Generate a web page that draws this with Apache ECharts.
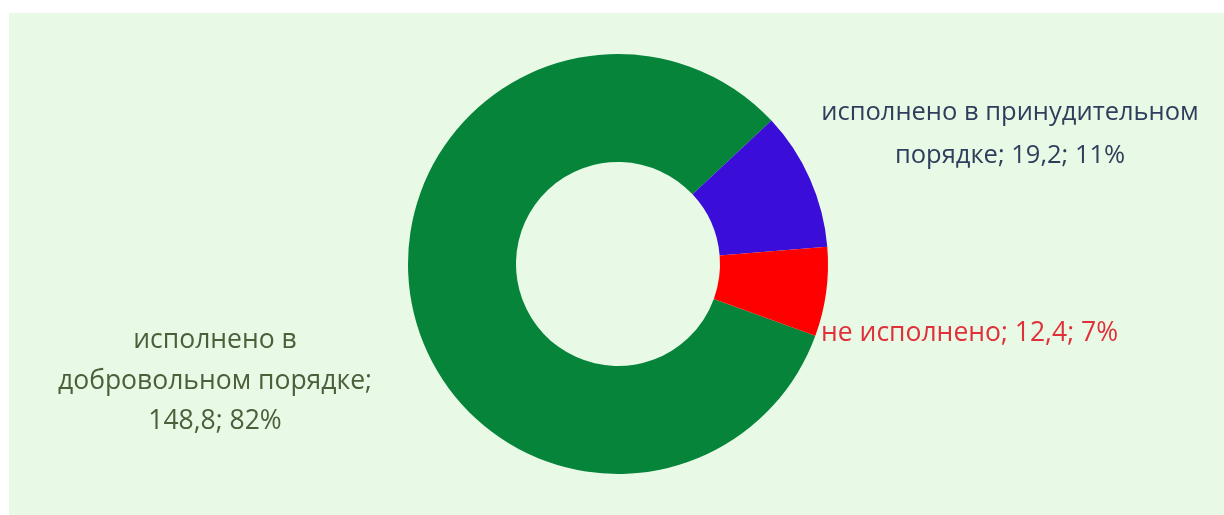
<!DOCTYPE html>
<html><head><meta charset="utf-8">
<script src="https://cdn.jsdelivr.net/npm/echarts@6/dist/echarts.min.js"></script>
<style>
html,body{margin:0;padding:0;background:#fff;}
#wrap{position:absolute;left:9px;top:13px;width:1215px;height:502px;background:#E8FAE6;}
#c{position:absolute;left:0;top:0;width:1224px;height:515px;}
</style></head><body>
<div id="wrap"></div>
<div id="c"></div>
<script>
const categories = ['исполнено в добровольном порядке', 'исполнено в принудительном порядке', 'не исполнено'];
const values = [148.8, 19.2, 12.4];
const percents = [82, 11, 7];
const labelTexts = [
  'исполнено в\nдобровольном порядке;\n148,8; 82%',
  'исполнено в принудительном\nпорядке; 19,2; 11%',
  'не исполнено; 12,4; 7%'
];
const colors = ['#06843A', '#3A0ED8', '#FF0000'];
const textColors = ['#4E5E3A', '#2F3E5C', '#E0303A'];
const labelPos = [
  {x: 215, y: 381, align: 'center', size: 26.5},
  {x: 1010, y: 134, align: 'center', size: 25.5},
  {x: 821, y: 333, align: 'left', size: 26.5}
];

const chart = echarts.init(document.getElementById('c'), null, {renderer: 'canvas'});
chart.setOption({
  backgroundColor: 'transparent',
  animation: false,
  series: [{
    type: 'pie',
    center: [618, 264],
    radius: [102, 210],
    startAngle: -20,
    clockwise: true,
    avoidLabelOverlap: false,
    data: categories.map((n, i) => ({
      name: n, value: values[i],
      itemStyle: {color: colors[i]},
      label: {
        show: true,
        formatter: labelTexts[i],
        color: textColors[i],
        fontFamily: 'Open Sans',
        fontSize: labelPos[i].size,
        lineHeight: i === 0 ? 40.5 : 43,
        align: labelPos[i].align
      }
    })),
    label: {position: 'outside'},
    labelLine: {show: false},
    labelLayout: function (p) {
      const lp = labelPos[p.dataIndex];
      return {x: lp.x, y: lp.y, align: lp.align, verticalAlign: 'middle', hideOverlap: false, moveOverlap: null};
    },
    itemStyle: {borderWidth: 0}
  }]
});
</script>
</body></html>
